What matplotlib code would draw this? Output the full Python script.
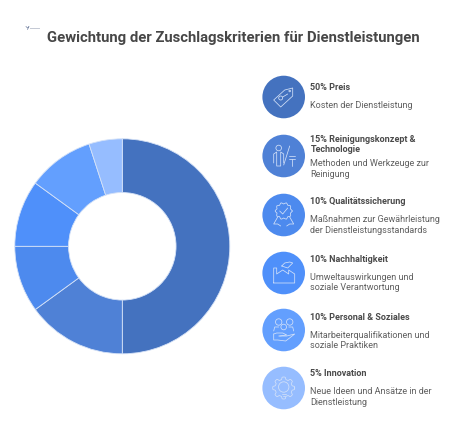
import numpy as np
import matplotlib
matplotlib.use("Agg")
import matplotlib.pyplot as plt
from matplotlib.patches import Circle, Polygon

W, H = 467, 446

title = "Gewichtung der Zuschlagskriterien für Dienstleistungen"
shares = [50, 15, 10, 10, 10, 5]
colors = ["#4472bf", "#4f81d6", "#4d8aee", "#4f90fa", "#639ffe", "#96bdff"]
heads = [["50% Preis"], ["15% Reinigungskonzept &", "Technologie"], ["10% Qualitätssicherung"],
         ["10% Nachhaltigkeit"], ["10% Personal & Soziales"], ["5% Innovation"]]
bodies = [["Kosten der Dienstleistung"], ["Methoden und Werkzeuge zur", "Reinigung"],
          ["Maßnahmen zur Gewährleistung", "der Dienstleistungsstandards"],
          ["Umweltauswirkungen und", "soziale Verantwortung"],
          ["Mitarbeiterqualifikationen und", "soziale Praktiken"],
          ["Neue Ideen und Ansätze in der", "Dienstleistung"]]
icon_y = [97, 156, 215, 273, 330, 388]
head_y = [87, 139, 202, 259, 317, 374]
body_y = [105, 164, 220, 277, 335, 392]
line_step = 10.8

plt.rcParams['font.family'] = ['Roboto', 'DejaVu Sans']
fig = plt.figure(figsize=(W/100, H/100), dpi=100, facecolor="white")

# donut
cx, cy, r = 122.3, 246.3, 107.5
ax = fig.add_axes([(cx-r)/W, 1-(cy+r)/H, 2*r/W, 2*r/H])
ax.pie(shares, colors=colors, startangle=90, counterclock=False, radius=1,
       wedgeprops=dict(width=0.5, edgecolor="#d5e2f7", linewidth=0.6))
ax.set_xlim(-1, 1)
ax.set_ylim(-1, 1)

# everything else in pixel coordinates
ov = fig.add_axes([0, 0, 1, 1])
ov.set_xlim(0, W)
ov.set_ylim(H, 0)
ov.axis("off")
ov.patch.set_alpha(0)

ov.text(233.5, 38, title, ha="center", va="center", fontsize=10.75, fontweight="bold", color="#474747")

# tiny logo, too small to read in the reference
ov.plot([26, 27.5, 29, 27.5], [26.5, 28, 26.5, 29.5], color="#7a88a5", lw=0.5)
ov.plot([30, 39], [28.3, 28.3], color="#c4c9d4", lw=0.7)

ICON = "#d3e1f8"


def line(xs, ys, lw=0.55):
    ov.plot(xs, ys, color=ICON, lw=lw, solid_capstyle="round", solid_joinstyle="round", zorder=5)


def ring(x, y, rad, lw=0.55):
    ov.add_patch(Circle((x, y), rad, fill=False, ec=ICON, lw=lw, zorder=5))


def tag(x, y):
    ov.add_patch(Polygon([(x-10, y+3), (x+1, y-7), (x+9, y-9), (x+9, y-1), (x-3, y+10)],
                         closed=True, fill=False, ec=ICON, lw=0.55, joinstyle="round", zorder=5))
    ring(x-3, y+1, 2)
    line([x-1, x+4], [y, y-3])
    ring(x+6, y-6, 0.8)


def person(x, y):
    ring(x-5, y-8, 2.8)
    line([x-10, x-10, x-7, x-7, x-3, x-3, x, x], [y+7, y-2, y-4, y+10, y+10, y-4, y-2, y+7])
    line([x, x+6], [y+9, y-10])
    line([x+5, x+11], [y, y])
    line([x+5, x+11], [y+3, y+3])
    line([x+8, x+8], [y+3, y+10])


def badge(x, y):
    a = np.linspace(0, 2*np.pi, 41)
    rr = 7.8 + 0.8*np.cos(10*a)
    line(x + rr*np.cos(a), y - 4 + rr*np.sin(a))
    line([x-4, x-1, x+4], [y-4, y-1, y-7])
    line([x-6, x-10, x-6, x-3], [y+2, y+9, y+9, y+11])
    line([x+6, x+10, x+6, x+3], [y+2, y+9, y+9, y+11])


def factory(x, y):
    line([x-10, x-10, x-7, x-7, x-1, x+5, x+5, x+11, x+11, x-10],
         [y+10, y-5, y-5, y+1, y-3, y+1, y-3, y+1, y+10, y+10])
    line([x-2, x+1, x+6, x+9, x+4, x-2], [y-7, y-10, y-11, y-10, y-5, y-7])


def people(x, y):
    ring(x-5, y-8, 3.2)
    ring(x+6, y-8, 3.2)
    ring(x, y-3, 2.8)
    line([x-10, x-9, x-5], [y+1, y-3, y-3])
    line([x+10, x+9, x+5], [y+1, y-3, y-3])
    line([x-10, x-10, x-6, x+2, x+11, x+3, x-5], [y+4, y+10, y+10, y+11, y+4, y+6, y+6])
    line([x-10, x-7, x-1, x+3, x-4], [y+4, y+3, y+3, y+5, y+6])


def gear(x, y):
    a = np.linspace(0, 2*np.pi, 121)
    rr = 9.8 + 1.2*np.tanh(3*np.cos(8*a))
    line(x + rr*np.cos(a), y + rr*np.sin(a))
    ring(x, y-1, 5.2)
    line([x-2, x+2], [y+5.5, y+5.5])
    line([x-1, x+1], [y+7.5, y+7.5])


icons = [tag, person, badge, factory, people, gear]

for i in range(6):
    ov.add_patch(Circle((283.7, icon_y[i]), 21.3, fc=colors[i], ec="none"))
    icons[i](283.7, icon_y[i])
    for k, s in enumerate(heads[i]):
        ov.text(310.5, head_y[i] + k*line_step, s, fontsize=6.45, fontweight="bold",
                color="#4a4a4a", va="center")
    for k, s in enumerate(bodies[i]):
        ov.text(310.5, body_y[i] + k*line_step, s, fontsize=6.45, color="#5f5f5f", va="center")

fig.savefig("out.png", dpi=100)
